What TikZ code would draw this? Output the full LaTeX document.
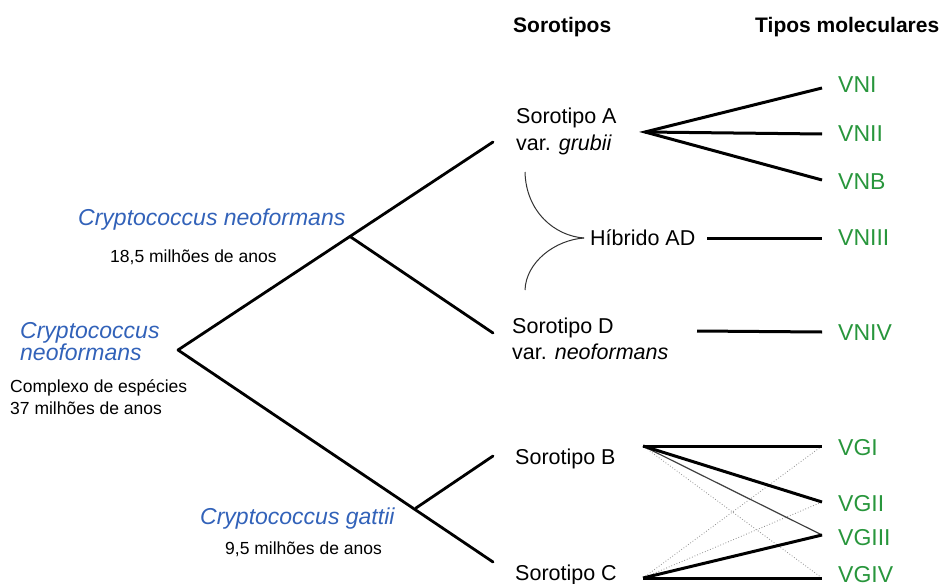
\documentclass[tikz,border=0pt]{standalone}
\usepackage{fontspec}
\setmainfont{Liberation Sans}
\definecolor{sciblue}{RGB}{50,98,185}
\definecolor{molgreen}{RGB}{40,150,60}
\begin{document}
\begin{tikzpicture}[x=1pt,y=-1pt,
  txt/.style={inner sep=0pt,anchor=base west,font=\fontsize{21.5}{26}\selectfont},
  hdr/.style={inner sep=0pt,anchor=base west,font=\fontsize{21}{25}\selectfont\bfseries},
  sci/.style={inner sep=0pt,anchor=base west,text=sciblue,font=\fontsize{23}{27}\selectfont\itshape},
  small/.style={inner sep=0pt,anchor=base west,font=\fontsize{17.5}{21}\selectfont},
  mol/.style={inner sep=0pt,anchor=base west,text=molgreen,font=\fontsize{23}{27}\selectfont},
  tree/.style={line width=2.8pt,line cap=round},
  thick link/.style={line width=3pt},
  thin link/.style={line width=1.2pt,black!75},
  dot link/.style={line width=0.8pt,black!45,dotted},
  hyb/.style={line width=1pt,black!80}]
\useasboundingbox (0,0) rectangle (944,583);

% headers
\node[hdr] (hS) at (513,32.5) {Sorotipos};
\node[hdr] (hT) at (755,32.5) {Tipos moleculares};

% species labels
\node[sci] (cn) at (78,225) {Cryptococcus neoformans};
\node[small] (cnage) at (110,262) {18,5 milhões de anos};
\node[sci] (cx1) at (20,338) {Cryptococcus};
\node[sci] (cx2) at (20,360) {neoformans};
\node[small] (cx3) at (10,392) {Complexo de espécies};
\node[small] (cx4) at (10,414) {37 milhões de anos};
\node[sci] (cg) at (200,524) {Cryptococcus gattii};
\node[small] (cgage) at (225,554) {9,5 milhões de anos};

% serotypes
\node[txt] (sA) at (516,124) {Sorotipo A};
\node[txt] (sAv) at (516,150) {var. \textit{grubii}};
\node[txt] (hAD) at (590,245.5) {Híbrido AD};
\node[txt] (sD) at (512,333) {Sorotipo D};
\node[txt] (sDv) at (512,359) {var. \textit{neoformans}};
\node[txt] (sB) at (515,464) {Sorotipo B};
\node[txt] (sC) at (515,580) {Sorotipo C};

% molecular types
\node[mol] (VNI) at (838,93) {VNI};
\node[mol] (VNII) at (838,142) {VNII};
\node[mol] (VNB) at (838,189) {VNB};
\node[mol] (VNIII) at (838,245) {VNIII};
\node[mol] (VNIV) at (838,340) {VNIV};
\node[mol] (VGI) at (838,455) {VGI};
\node[mol] (VGII) at (838,511) {VGII};
\node[mol] (VGIII) at (838,545) {VGIII};
\node[mol] (VGIV) at (838,582) {VGIV};

% tree coordinates
\coordinate (root) at (178,350);
\coordinate (nA) at (493,142);
\coordinate (nN) at (350,236.5);
\coordinate (nD) at (493,333);
\coordinate (nG) at (416,508);
\coordinate (nB) at (493,456);
\coordinate (nC) at (493,562);

\draw[tree] (root) -- (nA);
\draw[tree] (nN) -- (nD);
\draw[tree] (root) -- (nC);
\draw[tree] (nG) -- (nB);

% link coordinates
\coordinate (pA) at (645,132);
\coordinate (eVNI) at (822,88);
\coordinate (eVNII) at (822,134);
\coordinate (eVNB) at (822,180);
\coordinate (sVNIII) at (707,238);
\coordinate (eVNIII) at (822,238);
\coordinate (sVNIV) at (697,331);
\coordinate (eVNIV) at (822,332);
\coordinate (pB) at (643,446);
\coordinate (pC) at (643,578);
\coordinate (eVGI) at (822,446);
\coordinate (eVGII) at (822,502);
\coordinate (eVGIII) at (822,535);
\coordinate (eVGIV) at (822,578);

\draw[thick link] (eVNI) -- (pA) -- (eVNB);
\draw[thick link] (pA) -- (eVNII);
\draw[thick link] (sVNIII) -- (eVNIII);
\draw[thick link] (sVNIV) -- (eVNIV);

\draw[dot link] (pB) -- (eVGIV);
\draw[dot link] (pC) -- (eVGI);
\draw[dot link] (pC) -- (eVGII);
\draw[thin link] (pB) -- (eVGIII);
\draw[thick link] (pB) -- (eVGI);
\draw[thick link] (pB) -- (eVGII);
\draw[thick link] (pC) -- (eVGIII);
\draw[thick link] (pC) -- (eVGIV);

% hybrid curves
\coordinate (hU) at (525,172);
\coordinate (hM) at (584,238);
\coordinate (hL) at (525,290);
\draw[hyb] (hU) .. controls (526,212) and (555,236) .. (hM);
\draw[hyb] (hM) .. controls (555,240) and (526,262) .. (hL);
\end{tikzpicture}
\end{document}
